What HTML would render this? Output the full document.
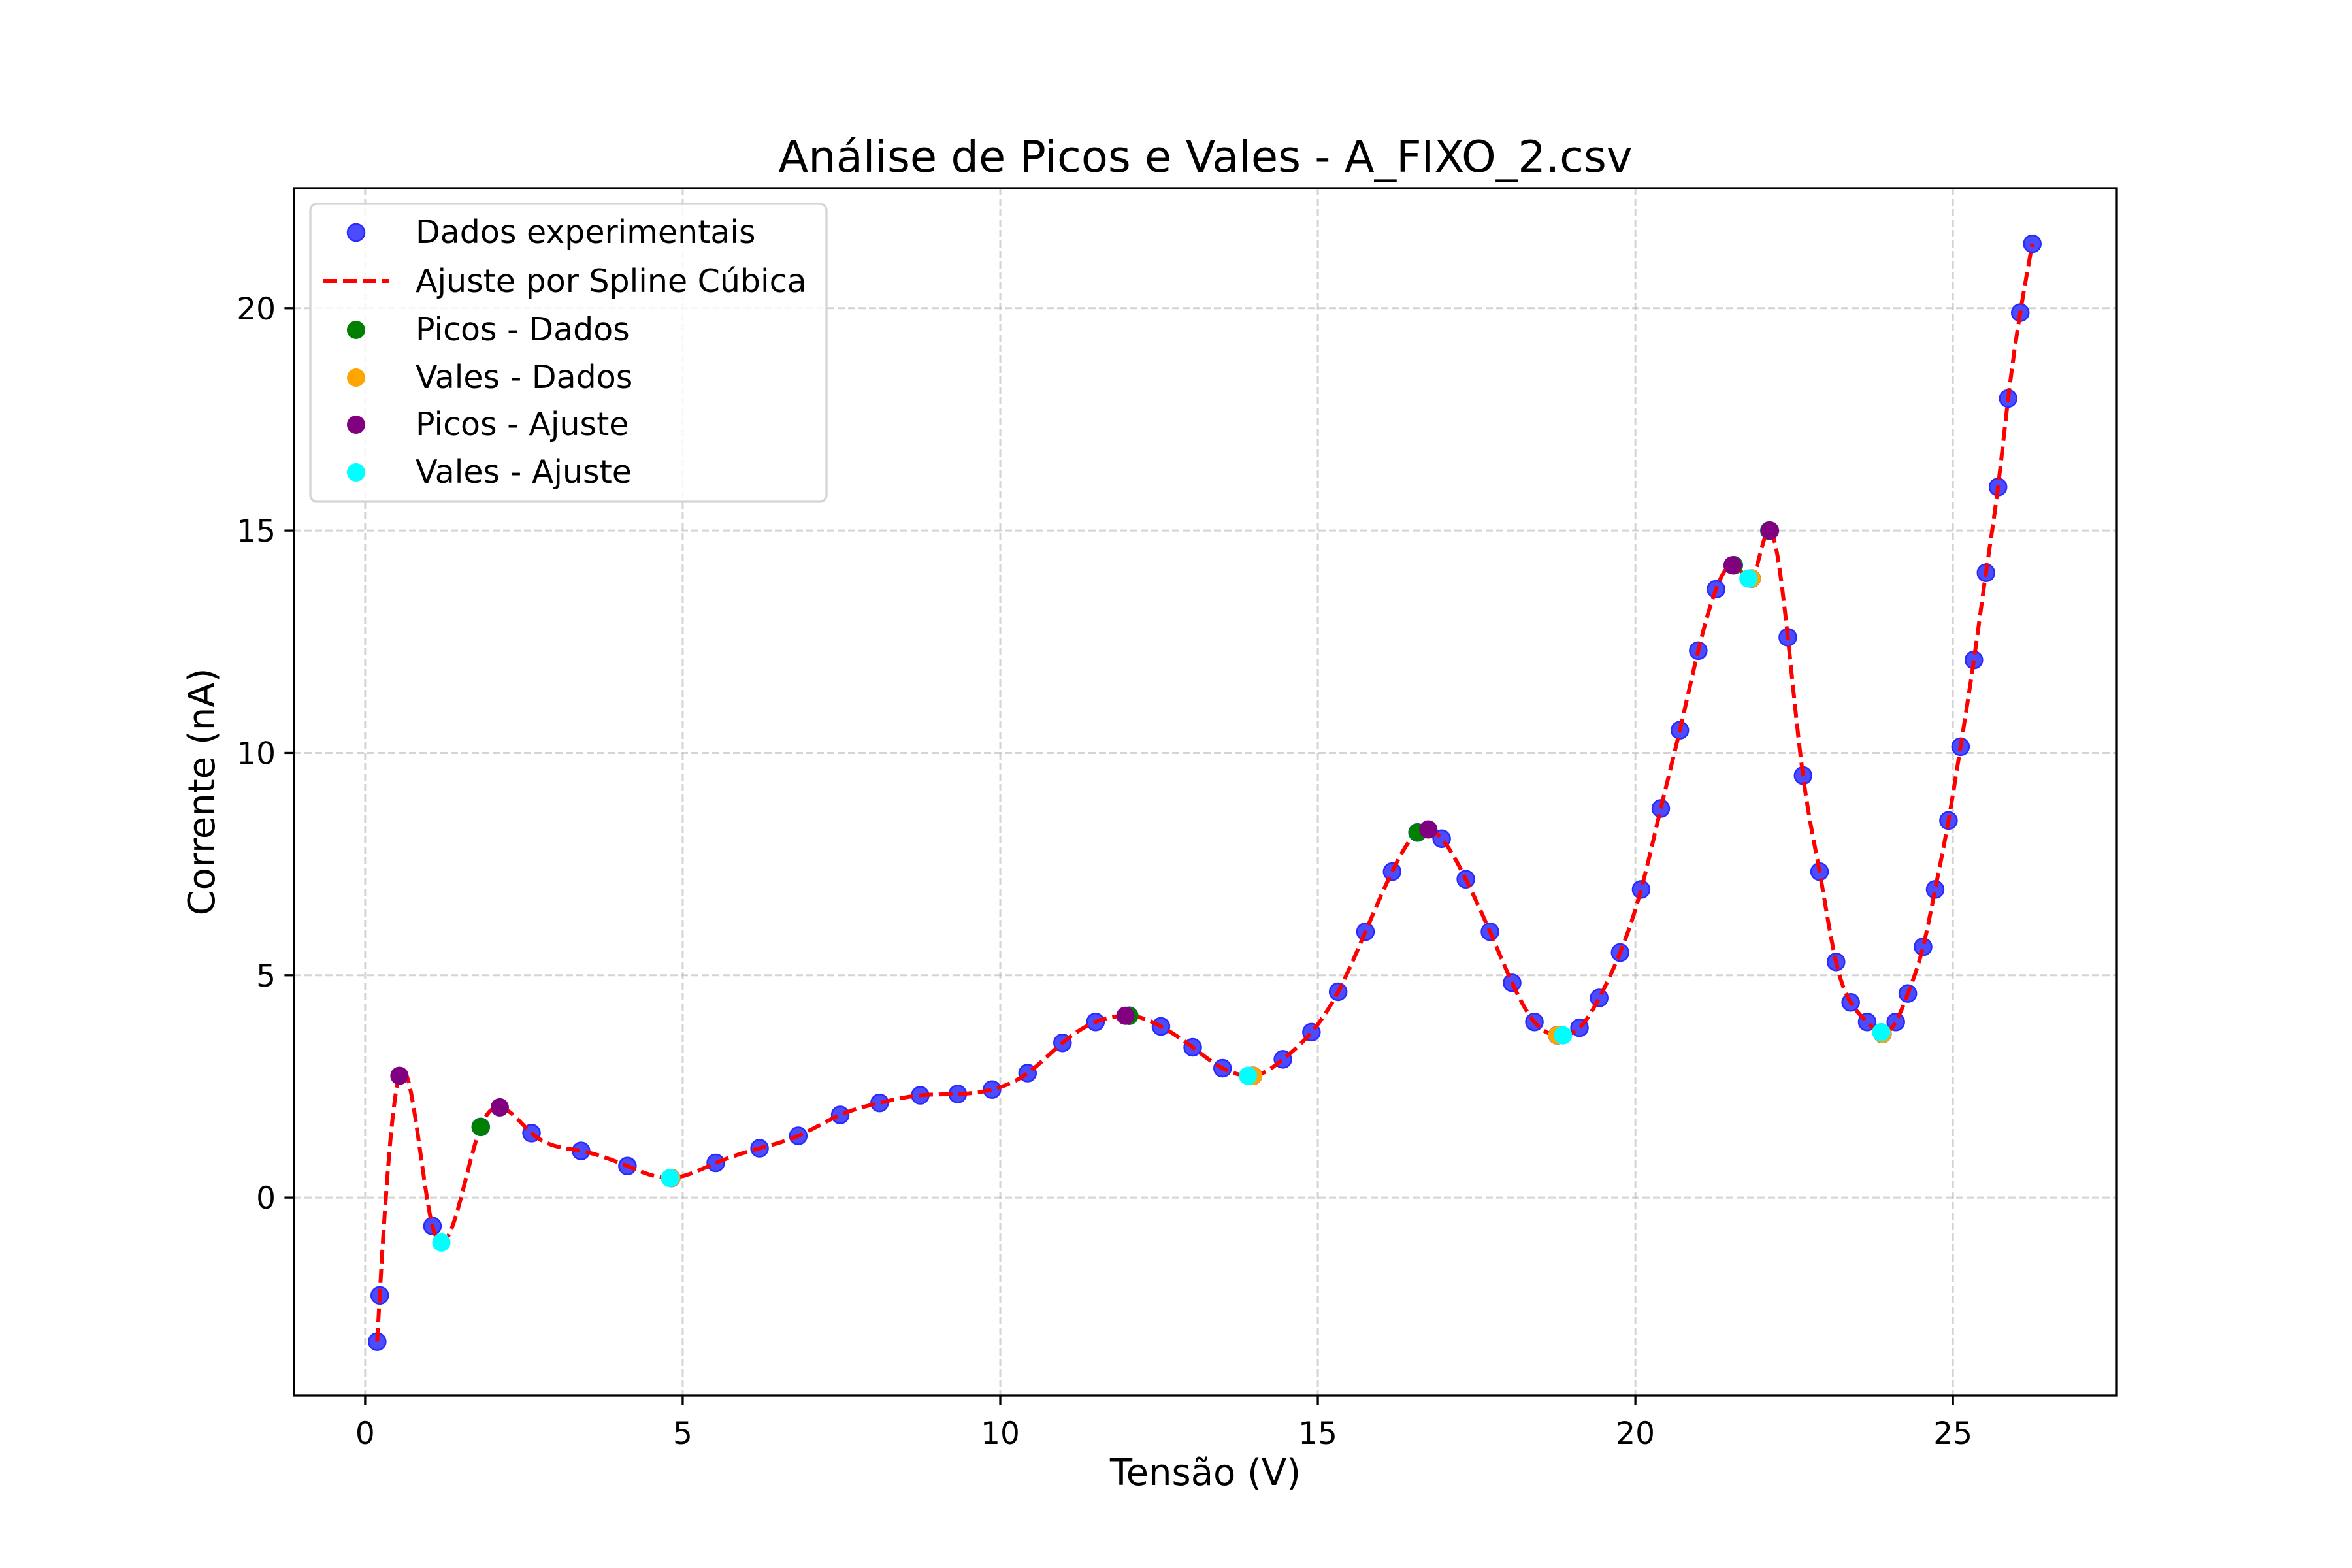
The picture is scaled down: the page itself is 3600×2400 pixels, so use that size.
<!DOCTYPE html>
<html><head><meta charset="utf-8">
<style>
html,body{margin:0;padding:0;background:#fff;}
svg{display:block;font-family:"DejaVu Sans","Liberation Sans",sans-serif;}
</style></head>
<body>
<svg id="chart" width="3600" height="2400" viewBox="0 0 3600 2400" xmlns="http://www.w3.org/2000/svg">
<rect width="3600" height="2400" fill="#fff"/>
<g id="grid"></g>
<g id="axes"></g>
<g id="marks"></g>
<rect x="450" y="288" width="2790" height="1848" fill="none" stroke="#000" stroke-width="3.3"/>
<text x="1845" y="263" font-size="67" text-anchor="middle">Análise de Picos e Vales - A_FIXO_2.csv</text>
<text x="1845" y="2306" font-size="56" text-anchor="middle" transform="translate(0,-33)">Tensão (V)</text>
<text x="0" y="0" font-size="56" text-anchor="middle" transform="translate(328,1212) rotate(-90)">Corrente (nA)</text>
<g id="legend">
<rect x="475" y="312" width="790" height="456" rx="10" fill="#fff" fill-opacity="0.8" stroke="#d4d4d4" stroke-width="3.3"/>
<circle cx="545" cy="356" r="13" fill="#4c4cff" stroke="#2a2aff" stroke-width="2.5"/>
<text x="636" y="372" font-size="49">Dados experimentais</text>
<line x1="495" y1="430" x2="595" y2="430" stroke="#f00" stroke-width="6" stroke-dasharray="21,9"/>
<text x="636" y="447" font-size="49">Ajuste por Spline Cúbica</text>
<circle cx="545" cy="505" r="14" fill="#008000"/>
<text x="636" y="521" font-size="49">Picos - Dados</text>
<circle cx="545" cy="578" r="14" fill="#ffa500"/>
<text x="636" y="594" font-size="49">Vales - Dados</text>
<circle cx="545" cy="650" r="14" fill="#800080"/>
<text x="636" y="666" font-size="49">Picos - Ajuste</text>
<circle cx="545" cy="723" r="14" fill="#00ffff"/>
<text x="636" y="739" font-size="49">Vales - Ajuste</text>
</g>
</svg>
<script>
const xTicks = [0,5,10,15,20,25];
const yTicks = [0,5,10,15,20];
const dataX = [0.19,0.23,1.06,1.82,2.62,3.40,4.13,4.82,5.52,6.21,6.82,7.48,8.10,8.74,9.33,9.87,10.43,10.98,11.50,12.03,12.53,13.03,13.50,13.98,14.45,14.90,15.32,15.75,16.17,16.57,16.95,17.33,17.71,18.06,18.41,18.77,19.12,19.43,19.76,20.09,20.40,20.70,20.99,21.27,21.55,21.83,22.11,22.40,22.64,22.90,23.16,23.39,23.65,23.89,24.10,24.29,24.53,24.72,24.93,25.12,25.33,25.52,25.71,25.87,26.06,26.25];
const dataY = [-3.24,-2.2,-0.64,1.59,1.45,1.05,0.71,0.44,0.78,1.11,1.39,1.86,2.13,2.30,2.33,2.43,2.80,3.48,3.95,4.09,3.85,3.38,2.91,2.74,3.11,3.72,4.63,5.98,7.33,8.21,8.07,7.16,5.98,4.83,3.95,3.65,3.82,4.49,5.51,6.93,8.75,10.51,12.30,13.68,14.22,13.92,15.0,12.60,9.49,7.33,5.30,4.39,3.95,3.68,3.95,4.59,5.64,6.93,8.48,10.14,12.09,14.05,15.98,17.97,19.90,21.45];
const peaksDataX = [1.82,12.03,16.57,21.55,22.11];
const peaksDataY = [1.59,4.09,8.21,14.22,15.0];
const valleysDataX = [4.82,13.98,18.77,21.83,23.89];
const valleysDataY = [0.44,2.74,3.65,13.92,3.68];
const peaksFitX = [0.54,2.12,11.97,16.74,21.53,22.12];
const peaksFitY = [2.74,2.03,4.09,8.28,14.22,15.0];
const valleysFitX = [1.20,4.80,13.90,18.86,21.78,23.87];
const valleysFitY = [-1.01,0.44,2.74,3.65,13.92,3.72];

const L=450,R=3240,T=288,B=2136;
const xMin=-1.12,xMax=27.58,yMin=-4.45,yMax=22.7;
const sx=v=>L+(v-xMin)/(xMax-xMin)*(R-L);
const sy=v=>B-(v-yMin)/(yMax-yMin)*(B-T);
const NS="http://www.w3.org/2000/svg";
function mk(tag,attrs,parent){const e=document.createElementNS(NS,tag);for(const k in attrs)e.setAttribute(k,attrs[k]);parent.appendChild(e);return e;}
const grid=document.getElementById('grid'),axes=document.getElementById('axes'),marks=document.getElementById('marks');

xTicks.forEach(t=>{
  const x=sx(t);
  const g=mk('line',{x1:x,x2:x,y1:T,y2:B,stroke:'#b0b0b0','stroke-opacity':0.55,'stroke-width':3,'stroke-dasharray':'11,5'},grid);
  
  
  const tk=mk('line',{x1:x,x2:x,y1:B,y2:B+14.6,stroke:'#000','stroke-width':3.3},axes);
  
  
  const lb=mk('text',{x:x,y:B+74,'font-size':47,'text-anchor':'middle'},axes);
  lb.textContent=t;
  
  
});
yTicks.forEach(t=>{
  const y=sy(t);
  const g=mk('line',{x1:L,x2:R,y1:y,y2:y,stroke:'#b0b0b0','stroke-opacity':0.55,'stroke-width':3,'stroke-dasharray':'11,5'},grid);
  
  
  const tk=mk('line',{x1:L-14.6,x2:L,y1:y,y2:y,stroke:'#000','stroke-width':3.3},axes);
  
  
  const lb=mk('text',{x:L-28,y:y+17,'font-size':47,'text-anchor':'end'},axes);
  lb.textContent=t;
  
  
});

dataX.forEach((v,i)=>{
  const c=mk('circle',{cx:sx(v),cy:sy(dataY[i]),r:13,fill:'#4c4cff',stroke:'#2a2aff','stroke-width':2.5},marks);
  
  
});

// spline knots: data plus fitted extrema (fit passes through them)
function spline(xs,ys){
  const n=xs.length,h=[],a=[],l=[1],mu=[0],z=[0],c=new Array(n).fill(0),b=[],d=[];
  for(let i=0;i<n-1;i++)h.push(xs[i+1]-xs[i]);
  for(let i=1;i<n-1;i++)a[i]=3/h[i]*(ys[i+1]-ys[i])-3/h[i-1]*(ys[i]-ys[i-1]);
  for(let i=1;i<n-1;i++){l[i]=2*(xs[i+1]-xs[i-1])-h[i-1]*mu[i-1];mu[i]=h[i]/l[i];z[i]=(a[i]-h[i-1]*z[i-1])/l[i];}
  l[n-1]=1;z[n-1]=0;
  for(let j=n-2;j>=0;j--){c[j]=z[j]-mu[j]*c[j+1];b[j]=(ys[j+1]-ys[j])/h[j]-h[j]*(c[j+1]+2*c[j])/3;d[j]=(c[j+1]-c[j])/(3*h[j]);}
  return x=>{let i=0;while(i<n-2&&x>xs[i+1])i++;const t=x-xs[i];return ys[i]+b[i]*t+c[i]*t*t+d[i]*t*t*t;};
}
let knots=dataX.map((v,i)=>[v,dataY[i]]);
peaksFitX.forEach((v,i)=>knots.push([v,peaksFitY[i]]));
valleysFitX.forEach((v,i)=>knots.push([v,valleysFitY[i]]));
knots.sort((a,b)=>a[0]-b[0]);
const kk=[];knots.forEach(p=>{if(!kk.length||p[0]-kk[kk.length-1][0]>0.035)kk.push(p);else if(Math.abs(p[0]-kk[kk.length-1][0])<=0.035){/* keep fit extrema */kk[kk.length-1]=[(kk[kk.length-1][0]+p[0])/2,(kk[kk.length-1][1]+p[1])/2];}});
const f=spline(kk.map(p=>p[0]),kk.map(p=>p[1]));
let dStr='';
const x0=dataX[0],x1=dataX[dataX.length-1];
for(let k=0;k<=2000;k++){const x=x0+(x1-x0)*k/2000;dStr+=(k?'L':'M')+sx(x).toFixed(1)+','+sy(f(x)).toFixed(1);}
const path=mk('path',{d:dStr,fill:'none',stroke:'#f00','stroke-width':6,'stroke-dasharray':'21,9'},marks);



function pts(xs,ys,color,name){
  xs.forEach((v,i)=>{
    const c=mk('circle',{cx:sx(v),cy:sy(ys[i]),r:14,fill:color},marks);
    
    
  });
}
pts(peaksDataX,peaksDataY,'#008000','peak-data-point');
pts(valleysDataX,valleysDataY,'#ffa500','valley-data-point');
pts(peaksFitX,peaksFitY,'#800080','peak-fit-point');
pts(valleysFitX,valleysFitY,'#00ffff','valley-fit-point');
</script>
</body></html>
